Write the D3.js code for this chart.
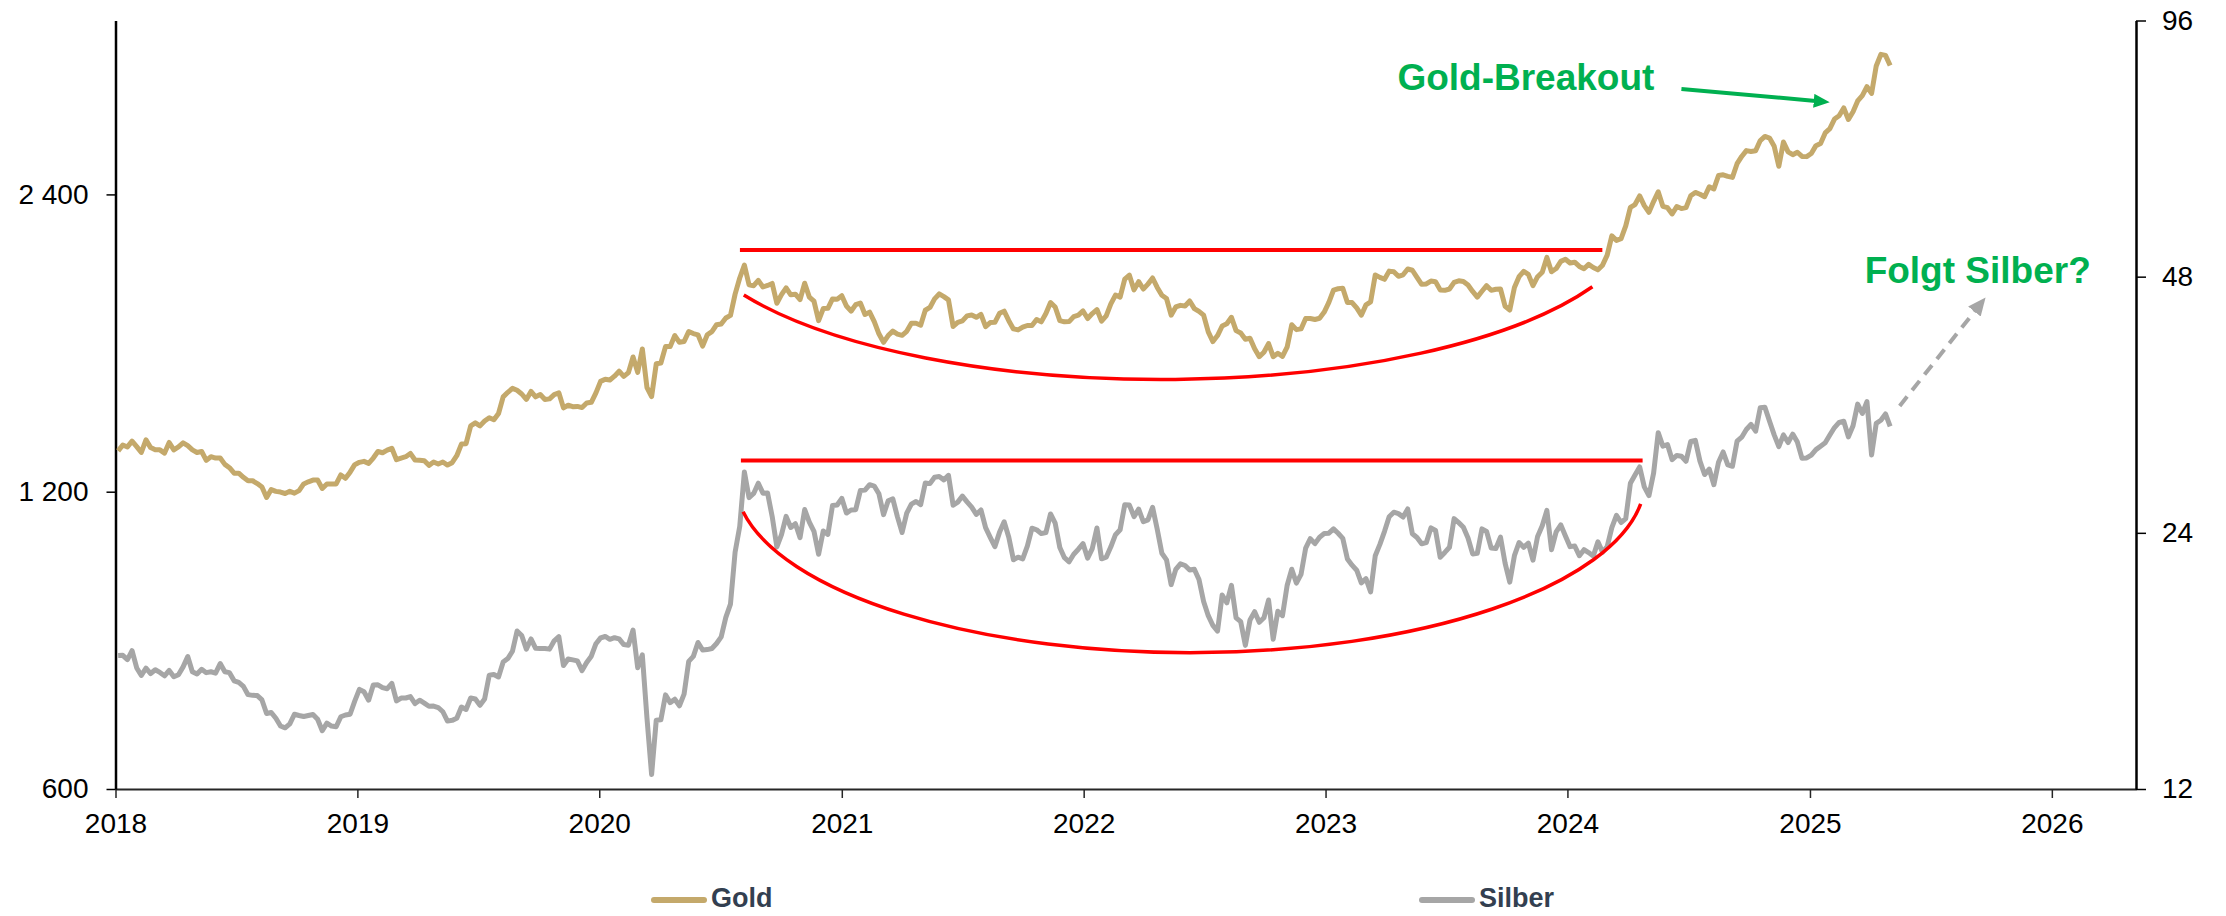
<!DOCTYPE html>
<html>
<head>
<meta charset="UTF-8">
<title>Gold und Silber</title>
<style>
  body { margin: 0; background: #fff; }
  svg text { font-family: "Liberation Sans", Arial, sans-serif; }
</style>
</head>
<body>
<div id="chart"></div>
<script src="https://cdn.jsdelivr.net/npm/d3@7/dist/d3.min.js"></script>
<script>
// Wochenschlusskurse (Freitag), erste Woche = 2018-01-05
var firstWeek = "2018-01-05";

// Gold in USD/oz (linke Achse)
var goldWeekly = [
  // 2018
  1320, 1338, 1332, 1350, 1333, 1315, 1354, 1330, 1323, 1323, 1313, 1346, 1323,
  1332, 1345, 1336, 1323, 1315, 1318, 1291, 1302, 1298, 1298, 1279, 1269, 1253,
  1253, 1241, 1231, 1231, 1223, 1213, 1184, 1206, 1201, 1199, 1195, 1201, 1196,
  1203, 1222, 1228, 1233, 1233, 1209, 1222, 1222, 1222, 1248, 1238, 1256, 1278,
  // 2019
  1285, 1288, 1282, 1298, 1318, 1314, 1322, 1328, 1293, 1298, 1302, 1312, 1292,
  1291, 1290, 1276, 1286, 1280, 1286, 1277, 1284, 1305, 1341, 1342, 1399, 1409,
  1399, 1415, 1426, 1419, 1440, 1497, 1513, 1527, 1520, 1507, 1488, 1516, 1497,
  1505, 1488, 1490, 1505, 1511, 1459, 1468, 1463, 1464, 1460, 1476, 1478, 1511,
  // 2020
  1552, 1560, 1557, 1571, 1589, 1570, 1584, 1643, 1585, 1674, 1530, 1498, 1617,
  1620, 1683, 1683, 1727, 1700, 1703, 1743, 1735, 1730, 1685, 1730, 1743, 1771,
  1774, 1799, 1810, 1902, 1975, 2035, 1944, 1940, 1964, 1934, 1941, 1950, 1862,
  1900, 1930, 1899, 1902, 1878, 1951, 1889, 1871, 1788, 1839, 1840, 1881, 1880,
  // 2021
  1895, 1850, 1828, 1856, 1863, 1814, 1824, 1784, 1734, 1700, 1727, 1745, 1733,
  1728, 1744, 1777, 1777, 1769, 1832, 1844, 1881, 1903, 1891, 1877, 1764, 1781,
  1787, 1808, 1812, 1802, 1814, 1763, 1780, 1781, 1819, 1828, 1788, 1754, 1750,
  1761, 1768, 1768, 1793, 1783, 1818, 1865, 1846, 1788, 1783, 1784, 1805, 1811, 1829,
  // 2022
  1797, 1818, 1835, 1786, 1808, 1859, 1898, 1889, 1970, 1988, 1921, 1958,
  1925, 1947, 1975, 1932, 1897, 1883, 1811, 1846, 1853, 1850, 1872, 1839, 1827,
  1811, 1742, 1703, 1727, 1766, 1775, 1802, 1747, 1737, 1712, 1716, 1675, 1644, 1661,
  1695, 1644, 1657, 1645, 1681, 1771, 1751, 1754, 1797, 1797, 1793, 1798, 1824,
  // 2023
  1866, 1920, 1926, 1928, 1865, 1865, 1842, 1811, 1855, 1868, 1989, 1978, 1969,
  2007, 2004, 1983, 1990, 2017, 2011, 1978, 1946, 1948, 1961, 1958, 1921, 1919,
  1925, 1955, 1962, 1959, 1943, 1914, 1889, 1915, 1940, 1919, 1924, 1925, 1849,
  1833, 1932, 1981, 2006, 1992, 1940, 1981, 2002, 2072, 2004, 2019, 2053, 2063,
  // 2024
  2045, 2049, 2029, 2018, 2039, 2024, 2013, 2035, 2083, 2179, 2156, 2165, 2230,
  2329, 2344, 2392, 2338, 2302, 2360, 2415, 2334, 2327, 2293, 2333, 2322, 2327,
  2392, 2411, 2401, 2387, 2443, 2431, 2508, 2512, 2503, 2497, 2578, 2622, 2658,
  2653, 2657, 2721, 2747, 2737, 2685, 2563, 2712, 2650, 2633, 2648, 2622, 2621,
  // 2025
  2640, 2689, 2703, 2770, 2798, 2861, 2883, 2936, 2858, 2910, 2984, 3022, 3085,
  3037, 3238, 3327, 3319, 3241
];

// Silber in USD/oz (rechte Achse)
var silverWeekly = [
  // 2018
  17.22, 17.23, 17.03, 17.45, 16.65, 16.32, 16.64, 16.40, 16.57, 16.45, 16.30, 16.54, 16.26,
  16.35, 16.70, 17.17, 16.48, 16.38, 16.59, 16.44, 16.48, 16.42, 16.85, 16.48, 16.44, 16.08,
  16.01, 15.84, 15.49, 15.46, 15.45, 15.27, 14.72, 14.76, 14.53, 14.23, 14.16, 14.31, 14.69,
  14.64, 14.60, 14.64, 14.68, 14.49, 14.05, 14.34, 14.23, 14.20, 14.59, 14.66, 14.69, 15.22,
  // 2019
  15.71, 15.61, 15.26, 15.90, 15.91, 15.79, 15.74, 15.97, 15.23, 15.35, 15.35, 15.41, 15.12,
  15.26, 15.14, 15.01, 15.02, 14.96, 14.79, 14.42, 14.45, 14.53, 14.98, 14.88, 15.35, 15.31,
  15.05, 15.31, 16.33, 16.36, 16.25, 16.92, 17.08, 17.42, 18.40, 18.18, 17.52, 18.01, 17.56,
  17.55, 17.55, 17.52, 17.92, 18.12, 16.76, 17.06, 17.02, 16.97, 16.53, 16.90, 17.19, 17.78,
  // 2020
  18.06, 18.13, 17.99, 18.07, 18.01, 17.74, 17.71, 18.45, 16.66, 17.25, 14.54, 12.48, 14.45,
  14.47, 15.48, 15.16, 15.30, 15.03, 15.51, 16.95, 17.18, 17.84, 17.48, 17.50, 17.55, 17.79,
  18.11, 19.09, 19.79, 22.78, 24.42, 28.29, 26.40, 26.70, 27.45, 26.72, 26.73, 25.07, 23.10,
  23.88, 25.09, 24.35, 24.60, 23.69, 25.56, 24.71, 24.10, 22.65, 24.12, 23.90, 25.85, 25.88,
  // 2021
  26.35, 25.32, 25.53, 25.55, 26.91, 26.94, 27.34, 27.24, 26.68, 25.21, 26.18, 26.31, 25.06,
  24.02, 25.31, 25.94, 26.12, 25.90, 27.47, 27.42, 27.90, 27.95, 27.70, 28.04, 25.86, 26.08,
  26.51, 26.10, 25.73, 25.23, 25.53, 24.34, 23.71, 23.12, 24.03, 24.73, 23.72, 22.31, 22.47,
  22.37, 23.15, 24.30, 24.20, 23.95, 24.02, 25.26, 24.64, 23.07, 22.44, 22.19, 22.65, 22.96, 23.31,
  // 2022
  22.41, 23.00, 24.32, 22.37, 22.47, 23.11, 23.88, 24.20, 25.90, 25.87, 25.08, 25.59,
  24.73, 24.86, 25.72, 24.24, 22.71, 22.31, 20.86, 21.74, 22.07, 21.97, 21.70, 21.75, 21.15,
  19.93, 19.18, 18.68, 18.40, 20.29, 19.86, 20.82, 19.07, 18.87, 17.70, 18.96, 19.39, 18.84, 19.07,
  20.01, 18.00, 19.41, 19.18, 20.81, 21.75, 20.95, 21.45, 23.03, 23.62, 23.31, 23.72, 23.95,
  // 2023
  23.98, 24.26, 23.97, 23.64, 22.36, 21.99, 21.69, 20.96, 21.20, 20.46, 22.56, 23.26, 24.10,
  25.07, 25.38, 25.28, 25.05, 25.60, 23.94, 23.70, 23.30, 23.37, 24.32, 24.15, 22.46, 22.76,
  23.08, 24.94, 24.67, 24.37, 23.67, 22.67, 22.71, 24.26, 24.09, 23.03, 23.00, 23.72, 22.10,
  21.00, 22.56, 23.38, 23.08, 23.34, 22.29, 23.77, 24.47, 25.50, 22.93, 24.06, 24.52, 23.79,
  // 2024
  23.12, 23.16, 22.56, 22.93, 22.75, 22.54, 23.42, 22.78, 23.12, 24.34, 25.16, 24.68, 24.94,
  27.44, 28.06, 28.69, 27.18, 26.54, 28.19, 31.47, 30.35, 30.48, 29.25, 29.59, 29.53, 29.13,
  30.73, 30.82, 29.14, 28.10, 28.52, 27.34, 29.05, 29.87, 28.84, 28.74, 30.75, 31.09, 31.74,
  32.18, 31.60, 33.67, 33.72, 32.46, 31.28, 30.30, 31.28, 30.64, 31.35, 30.68, 29.36, 29.39,
  // 2025
  29.62, 30.06, 30.34, 30.62, 31.27, 31.91, 32.36, 32.46, 31.12, 32.06, 34.00, 33.15, 34.23,
  29.63, 32.28, 32.55, 33.11, 32.02
];

var goldTicks = [600, 1200, 2400];
var silverTicks = [12, 24, 48, 96];
var yearTicks = [2018, 2019, 2020, 2021, 2022, 2023, 2024, 2025, 2026];

// Annotationen: [Jahr als Dezimalzahl, Kurs]
var goldTop = [[2020.58, 2108], [2024.144, 2108]];
var goldCupEnds = [[2020.596, 1898], [2024.103, 1935]];
var silverTop = [[2020.584, 29.19], [2024.31, 29.19]];
var silverCupEnds = [[2020.593, 25.41], [2024.302, 25.95]];
var goldArrow = [[2024.47, 3069], [2025.024, 2984]];
var silverArrow = [[2025.371, 33.83], [2025.685, 43.86]];

var width = 2226, height = 916;
var plot = { left: 115.5, right: 2136, top: 20.5, bottom: 789 };
var goldColor = "#C4A96B", silverColor = "#A6A6A6", red = "#FF0000", green = "#00B050";

function yearToDate(y) {
  var yr = Math.floor(y);
  var a = new Date(yr, 0, 1), b = new Date(yr + 1, 0, 1);
  return new Date(+a + (y - yr) * (b - a));
}

var start = d3.timeParse("%Y-%m-%d")(firstWeek);
var gold = goldWeekly.map(function(v, i) { return { date: d3.timeDay.offset(start, 7 * i), value: v }; });
var silver = silverWeekly.map(function(v, i) { return { date: d3.timeDay.offset(start, 7 * i), value: v }; });

var x = d3.scaleTime()
  .domain([new Date(2018, 0, 1), new Date(2026, 4, 8)])
  .range([plot.left, plot.right]);
var yGold = d3.scaleLog().domain([600, 3600]).range([plot.bottom, plot.top]);
var ySilver = d3.scaleLog().domain([12, 96]).range([plot.bottom, plot.top]);

var locale = d3.formatLocale({ decimal: ",", thousands: " ", grouping: [3], currency: ["", " €"] });
var fmt = locale.format(",d");

var svg = d3.select("#chart").append("svg")
  .attr("width", width).attr("height", height);

var defs = svg.append("defs");
defs.append("marker")
  .attr("id", "headGreen").attr("markerUnits", "userSpaceOnUse")
  .attr("viewBox", "0 0 16 14").attr("refX", 2).attr("refY", 7)
  .attr("markerWidth", 16).attr("markerHeight", 14).attr("orient", "auto")
  .append("path").attr("d", "M0,0L16,7L0,14Z").attr("fill", green);
defs.append("marker")
  .attr("id", "headGray").attr("markerUnits", "userSpaceOnUse")
  .attr("viewBox", "0 0 18 16").attr("refX", 2).attr("refY", 8)
  .attr("markerWidth", 18).attr("markerHeight", 16).attr("orient", "auto")
  .append("path").attr("d", "M0,0L18,8L0,16Z").attr("fill", silverColor);

// x-Achse
var xAxis = d3.axisBottom(x)
  .tickValues(yearTicks.map(function(y) { return new Date(y, 0, 1); }))
  .tickFormat(d3.timeFormat("%Y"))
  .tickSize(9).tickSizeOuter(0).tickPadding(15);
var gx = svg.append("g").attr("transform", "translate(0," + plot.bottom + ")").call(xAxis);
gx.select(".domain").attr("stroke", "#262626").attr("stroke-width", 2);
gx.selectAll(".tick line").attr("stroke", "#262626").attr("stroke-width", 1.5);
gx.selectAll("text").attr("font-size", 28).attr("fill", "#000")
  .attr("font-family", "Liberation Sans, Arial, sans-serif");

// linke Achse (Gold)
var yAxisL = d3.axisLeft(yGold).tickValues(goldTicks).tickFormat(fmt)
  .tickSize(9).tickSizeOuter(0).tickPadding(18);
var gl = svg.append("g").attr("transform", "translate(" + plot.left + ",0)").call(yAxisL);
gl.select(".domain").attr("stroke", "#000").attr("stroke-width", 2.5);
gl.selectAll(".tick line").attr("stroke", "#000").attr("stroke-width", 1.5);
gl.selectAll("text").attr("font-size", 28).attr("fill", "#000")
  .attr("font-family", "Liberation Sans, Arial, sans-serif");

// rechte Achse (Silber)
var yAxisR = d3.axisRight(ySilver).tickValues(silverTicks).tickFormat(d3.format("d"))
  .tickSize(10).tickSizeOuter(0).tickPadding(16);
var gr = svg.append("g").attr("transform", "translate(" + plot.right + ",0)").call(yAxisR);
gr.select(".domain").attr("stroke", "#000").attr("stroke-width", 2.5);
gr.selectAll(".tick line").attr("stroke", "#000").attr("stroke-width", 1.5);
gr.selectAll("text").attr("font-size", 28).attr("fill", "#000")
  .attr("font-family", "Liberation Sans, Arial, sans-serif");

// Kurslinien
var goldLine = d3.line().x(function(d) { return x(d.date); }).y(function(d) { return yGold(d.value); });
var silverLine = d3.line().x(function(d) { return x(d.date); }).y(function(d) { return ySilver(d.value); });

svg.append("path").datum(silver).attr("d", silverLine)
  .attr("fill", "none").attr("stroke", silverColor).attr("stroke-width", 5)
  .attr("stroke-linejoin", "round");
svg.append("path").datum(gold).attr("d", goldLine)
  .attr("fill", "none").attr("stroke", goldColor).attr("stroke-width", 5)
  .attr("stroke-linejoin", "round");

// rote Tassenformationen
function pt(d, yScale) { return [x(yearToDate(d[0])), yScale(d[1])]; }
function annoLine(yScale) {
  return d3.line()
    .x(function(d) { return x(yearToDate(d[0])); })
    .y(function(d) { return yScale(d[1]); });
}
// Bogen (Ellipsenausschnitt) zwischen den beiden Endpunkten
function cup(ends, yScale, rx, ry) {
  var a = pt(ends[0], yScale), b = pt(ends[1], yScale);
  return "M" + a[0] + "," + a[1] + "A" + rx + "," + ry + " 0 0 0 " + b[0] + "," + b[1];
}
svg.append("path").datum(goldTop).attr("d", annoLine(yGold))
  .attr("fill", "none").attr("stroke", red).attr("stroke-width", 4);
svg.append("path").attr("d", cup(goldCupEnds, yGold, 480, 166))
  .attr("fill", "none").attr("stroke", red).attr("stroke-width", 3.5);
svg.append("path").datum(silverTop).attr("d", annoLine(ySilver))
  .attr("fill", "none").attr("stroke", red).attr("stroke-width", 4);
svg.append("path").attr("d", cup(silverCupEnds, ySilver, 455, 173))
  .attr("fill", "none").attr("stroke", red).attr("stroke-width", 3.5);

// Pfeile
svg.append("path").datum(goldArrow).attr("d", annoLine(yGold))
  .attr("fill", "none").attr("stroke", green).attr("stroke-width", 4)
  .attr("marker-end", "url(#headGreen)");
svg.append("path").datum(silverArrow).attr("d", annoLine(ySilver))
  .attr("fill", "none").attr("stroke", silverColor).attr("stroke-width", 4)
  .attr("stroke-dasharray", "12,8")
  .attr("marker-end", "url(#headGray)");

svg.append("text")
  .attr("x", x(yearToDate(2023.297))).attr("y", yGold(3062))
  .attr("font-size", 37).attr("font-weight", "bold").attr("fill", green)
  .text("Gold-Breakout");
svg.append("text")
  .attr("x", x(yearToDate(2025.226))).attr("y", ySilver(47.2))
  .attr("font-size", 37).attr("font-weight", "bold").attr("fill", green)
  .text("Folgt Silber?");

// Legende
var legendData = [
  { name: "Gold", color: goldColor, x: 651 },
  { name: "Silber", color: silverColor, x: 1419 }
];
var legend = svg.selectAll(".legend").data(legendData).enter().append("g")
  .attr("class", "legend")
  .attr("transform", function(d) { return "translate(" + d.x + ",900)"; });
legend.append("line")
  .attr("x1", 3).attr("x2", 53).attr("y1", 0).attr("y2", 0)
  .attr("stroke", function(d) { return d.color; })
  .attr("stroke-width", 6).attr("stroke-linecap", "round");
legend.append("text")
  .attr("x", 60).attr("y", 7)
  .attr("font-size", 27).attr("font-weight", "bold").attr("fill", "#333F50")
  .text(function(d) { return d.name; });
</script>
</body>
</html>
